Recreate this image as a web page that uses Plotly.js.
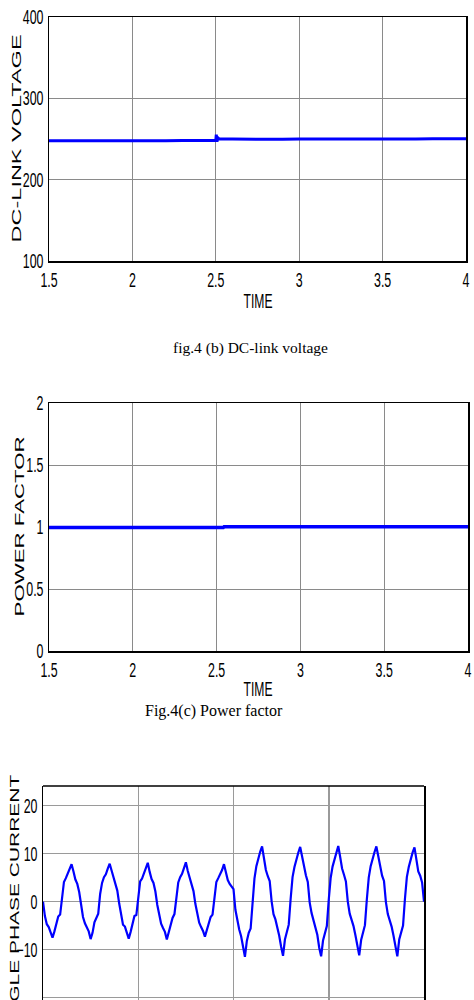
<!DOCTYPE html>
<html>
<head>
<meta charset="utf-8">
<script src="https://cdn.plot.ly/plotly-3.0.1.min.js"></script>
<style>
  html, body { margin: 0; padding: 0; background: #fff; }
  #chart { width: 474px; height: 1000px; }
</style>
</head>
<body>
<div id="chart"></div>
<script>
// ---------- data ----------
// (b) DC-link voltage
const dcTime = [1.5, 1.6, 1.7, 1.8, 1.9, 2.0, 2.1, 2.2, 2.3, 2.4, 2.49, 2.5, 2.503, 2.507, 2.512, 2.52, 2.6, 2.7, 2.8, 2.9, 3.0, 3.1, 3.2, 3.3, 3.4, 3.5, 3.6, 3.7, 3.8, 3.9, 4.0];
const dcVoltage = [248.0, 247.7, 248.1, 247.8, 247.9, 248.2, 247.8, 248.0, 248.1, 248.3, 248.4, 248.2, 255.5, 246.8, 251.6, 250.2, 249.9, 249.6, 249.8, 249.7, 249.9, 249.8, 250.0, 249.8, 250.1, 250.0, 250.2, 250.1, 250.4, 250.2, 250.3];

// (c) Power factor
const pfTime = [1.5, 1.8, 2.1, 2.4, 2.54, 2.545, 2.8, 3.1, 3.4, 3.7, 4.0];
const pfValue = [0.995, 0.995, 0.996, 0.995, 0.995, 1.003, 1.003, 1.004, 1.003, 1.003, 1.003];

// Single phase current, sampled every 1 ms from t = 2.4 s
const currentStart = 2.4;
const currentStep = 0.001;
const current = [
  0.0, -3.0, -4.7, -5.3, -6.4, -7.5, -6.2, -4.5, -3.1, -2.7, 1.2, 4.1, 4.9, 5.9, 6.7, 7.8, 6.3, 4.6, 3.7, 2.0,
  -0.6, -3.2, -4.5, -5.5, -6.2, -7.8, -6.5, -4.3, -3.3, -2.5, 1.6, 3.9, 5.1, 5.7, 6.9, 7.9, 6.5, 4.9, 3.6, 2.3,
  -0.4, -2.9, -4.8, -5.2, -6.5, -7.7, -6.3, -4.6, -3.0, -2.8, 1.4, 4.2, 4.8, 6.0, 6.8, 8.1, 6.2, 4.7, 3.9, 2.1,
  -0.7, -3.1, -4.6, -5.5, -6.3, -7.9, -6.4, -4.4, -3.4, -2.6, 1.5, 4.0, 5.1, 5.8, 7.0, 8.2, 6.4, 4.8, 3.8, 2.2,
  -0.5, -2.8, -4.4, -5.3, -6.1, -7.3, -6.0, -4.3, -3.2, -2.7, 1.3, 4.1, 4.9, 5.6, 6.6, 7.8, 6.2, 4.5, 3.7, 3.2,
  2.6, -1.7, -3.9, -5.8, -7.2, -9.8, -11.5, -8.2, -6.5, -5.6, 0.2, 4.8, 7.4, 9.2, 10.4, 11.5, 9.0, 6.6, 5.3, 4.3,
  0.1, -2.6, -3.7, -5.2, -7.1, -9.4, -11.3, -7.9, -6.4, -4.8, 0.6, 5.1, 7.2, 9.0, 10.2, 11.4, 9.5, 7.1, 5.5, 4.1,
  -0.2, -2.4, -3.9, -5.3, -6.9, -9.6, -11.4, -8.1, -6.3, -5.1, 0.4, 4.9, 7.3, 8.9, 10.4, 11.6, 9.3, 6.9, 5.6, 4.2,
  0.0, -2.5, -3.8, -5.1, -7.0, -9.5, -11.2, -8.0, -6.5, -4.9, 0.5, 5.0, 7.4, 9.1, 10.3, 11.5, 9.4, 7.0, 5.4, 4.3,
  -0.1, -2.6, -3.8, -5.2, -7.1, -9.4, -11.4, -7.9, -6.4, -5.0, 0.6, 5.1, 7.2, 9.0, 10.2, 11.3, 9.2, 6.3, 5.4, 4.0,
  0.0
];

// text
const yTitles = ['DC-LINK VOLTAGE', 'POWER FACTOR', 'SINGLE PHASE CURRENT'];
const xTitle = 'TIME';
const captions = ['fig.4 (b) DC-link voltage', 'Fig.4(c) Power factor'];

// ---------- styling ----------
const W = 474, H = 1000;
const px = v => v / W;          // horizontal pixel -> paper
const py = v => 1 - v / H;      // vertical pixel -> paper
const tickFont = { family: '"Liberation Sans", Arial, sans-serif', size: 20, color: '#000' };
const titleFont = { family: '"Liberation Sans", Arial, sans-serif', size: 13, color: '#000' };
const capFont1 = { family: '"Liberation Serif", "Times New Roman", serif', size: 15.5, color: '#000' };
const capFont2 = { family: '"Liberation Serif", "Times New Roman", serif', size: 16, color: '#000' };
const gridColor = '#8a8a8a';
const blue = '#0000ff';

// target on-screen lengths (px) of the stretched/condensed texts
const yTitleLength = { 'DC-LINK VOLTAGE': 208, 'POWER FACTOR': 180, 'SINGLE PHASE CURRENT': 262 };
const xTitleLength = 29;
const tickSqueeze = 0.62;

function xAx(domain, range, extra) {
  return Object.assign({
    domain: domain, range: range, dtick: 0.5, tick0: 0,
    showgrid: true, gridcolor: gridColor, gridwidth: 1, zeroline: false,
    showline: true, linecolor: '#000', linewidth: 1.5, mirror: true,
    ticks: '', tickfont: tickFont, fixedrange: true
  }, extra || {});
}
function yAx(domain, range, dtick, extra) {
  return Object.assign({
    domain: domain, range: range, dtick: dtick, tick0: 0,
    showgrid: true, gridcolor: gridColor, gridwidth: 1, zeroline: false,
    showline: true, linecolor: '#000', linewidth: 1.5, mirror: true,
    ticks: '', tickfont: tickFont, fixedrange: true
  }, extra || {});
}

const traces = [
  { x: dcTime, y: dcVoltage, xaxis: 'x', yaxis: 'y', type: 'scatter', mode: 'lines',
    line: { color: blue, width: 3 }, hoverinfo: 'none' },
  { x: pfTime, y: pfValue, xaxis: 'x2', yaxis: 'y2', type: 'scatter', mode: 'lines',
    line: { color: blue, width: 3.5 }, hoverinfo: 'none' },
  { x0: currentStart, dx: currentStep, y: current, xaxis: 'x3', yaxis: 'y3', type: 'scatter', mode: 'lines',
    line: { color: blue, width: 2.2 }, hoverinfo: 'none' }
];

const layout = {
  width: W, height: H,
  margin: { l: 0, r: 0, t: 0, b: 0 },
  paper_bgcolor: '#fff', plot_bgcolor: '#fff',
  showlegend: false,
  xaxis: xAx([px(49), px(466)], [1.5, 4], { anchor: 'y' }),
  yaxis: yAx([py(261), py(17)], [100, 400], 100, { anchor: 'x' }),
  xaxis2: xAx([px(49), px(468)], [1.5, 4], { anchor: 'y2' }),
  yaxis2: yAx([py(651), py(403)], [0, 2], 0.5, { anchor: 'x2' }),
  xaxis3: xAx([px(43), px(424)], [2.4, 2.6], { anchor: 'y3', dtick: 0.05, showticklabels: false, showline: false, gridcolor: '#9a9a9a', gridwidth: 1.5 }),
  yaxis3: yAx([0, py(786)], [-20.5, 24.1], 10, { anchor: 'x3', gridcolor: '#9a9a9a', gridwidth: 1.5 }),
  shapes: [
    { type: 'line', xref: 'x3 domain', yref: 'y3 domain', x0: 0, x1: 1, y0: 1, y1: 1,
      line: { color: '#000', width: 1.5 } }
  ],
  annotations: [
    { text: yTitles[0], xref: 'paper', yref: 'paper', x: px(16), y: py(139), xanchor: 'center', yanchor: 'middle',
      textangle: -90, showarrow: false, font: titleFont },
    { text: yTitles[1], xref: 'paper', yref: 'paper', x: px(19), y: py(527), xanchor: 'center', yanchor: 'middle',
      textangle: -90, showarrow: false, font: titleFont },
    { text: yTitles[2], xref: 'paper', yref: 'paper', x: px(14), y: py(906), xanchor: 'center', yanchor: 'middle',
      textangle: -90, showarrow: false, font: titleFont },
    { text: xTitle, xref: 'paper', yref: 'paper', x: px(258), y: py(300), xanchor: 'center', yanchor: 'middle',
      showarrow: false, font: { family: tickFont.family, size: 21, color: '#000' } },
    { text: xTitle, xref: 'paper', yref: 'paper', x: px(258), y: py(688), xanchor: 'center', yanchor: 'middle',
      showarrow: false, font: { family: tickFont.family, size: 21, color: '#000' } },
    { text: captions[0], xref: 'paper', yref: 'paper', x: px(250), y: py(348), xanchor: 'center', yanchor: 'middle',
      showarrow: false, font: capFont1 },
    { text: captions[1], xref: 'paper', yref: 'paper', x: px(214), y: py(711), xanchor: 'center', yanchor: 'middle',
      showarrow: false, font: capFont2 }
  ]
};

function adjustLength(el, len) {
  el.setAttribute('textLength', len);
  el.setAttribute('lengthAdjust', 'spacingAndGlyphs');
}

Plotly.newPlot('chart', traces, layout, { staticPlot: true, displayModeBar: false }).then(function () {
  // condensed tick labels (as in the MATLAB export)
  document.querySelectorAll('.xaxislayer-above text, .yaxislayer-above text').forEach(function (el) {
    const w = el.getComputedTextLength();
    if (w > 0) adjustLength(el, w * tickSqueeze);
  });
  document.querySelectorAll('.annotation-text').forEach(function (el) {
    const t = el.textContent;
    if (yTitleLength[t]) adjustLength(el, yTitleLength[t]);
    else if (t === xTitle) adjustLength(el, xTitleLength);
  });
});
</script>
</body>
</html>
